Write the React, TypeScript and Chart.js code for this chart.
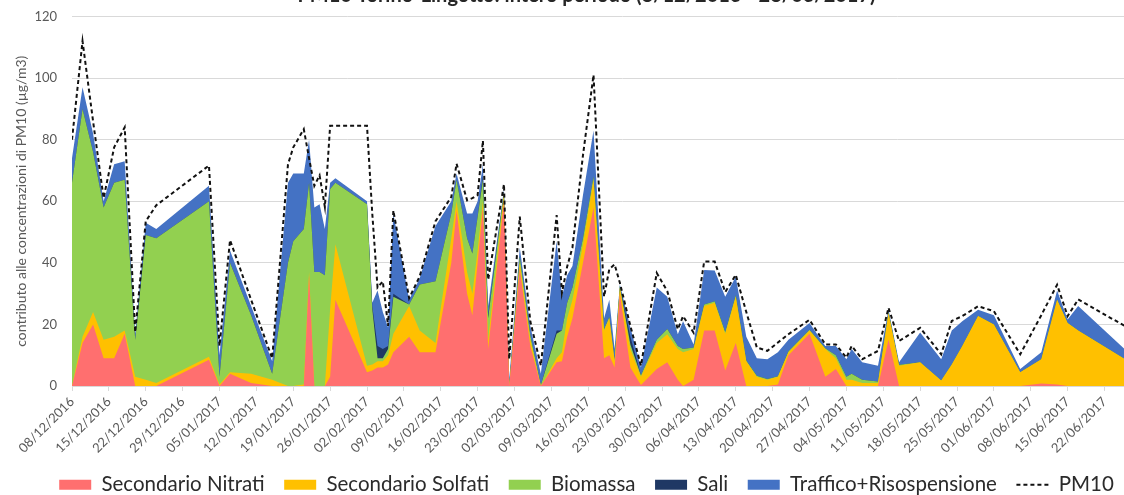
import React, { useEffect, useRef } from 'react';
import { Chart, registerables } from 'chart.js';

Chart.register(...registerables);
Chart.defaults.font.family = 'Lato, "Noto Sans", sans-serif';

// Sampling dates (dd/mm/yyyy)
const sampleDates = [
  '08/12/2016', '10/12/2016', '12/12/2016', '14/12/2016', '16/12/2016', '18/12/2016', '20/12/2016', '22/12/2016', '24/12/2016',
  '03/01/2017', '05/01/2017', '07/01/2017', '11/01/2017', '15/01/2017',
  '18/01/2017', '19/01/2017', '21/01/2017', '22/01/2017', '23/01/2017', '24/01/2017', '25/01/2017', '26/01/2017', '27/01/2017',
  '02/02/2017', '03/02/2017', '04/02/2017', '05/02/2017', '06/02/2017', '07/02/2017',
  '10/02/2017', '12/02/2017', '15/02/2017',
  '18/02/2017', '19/02/2017', '21/02/2017', '22/02/2017', '23/02/2017', '24/02/2017', '25/02/2017',
  '28/02/2017', '01/03/2017', '03/03/2017', '05/03/2017', '07/03/2017',
  '10/03/2017', '11/03/2017', '12/03/2017', '13/03/2017', '15/03/2017', '17/03/2017',
  '19/03/2017', '20/03/2017', '21/03/2017', '22/03/2017', '24/03/2017', '26/03/2017',
  '29/03/2017', '31/03/2017', '02/04/2017', '03/04/2017', '05/04/2017',
  '07/04/2017', '09/04/2017', '11/04/2017', '13/04/2017', '15/04/2017', '17/04/2017', '19/04/2017', '21/04/2017', '23/04/2017',
  '27/04/2017', '30/04/2017', '02/05/2017', '04/05/2017', '05/05/2017', '07/05/2017', '10/05/2017', '12/05/2017', '14/05/2017',
  '18/05/2017', '22/05/2017', '24/05/2017', '26/05/2017', '29/05/2017', '01/06/2017',
  '06/06/2017', '10/06/2017', '13/06/2017', '15/06/2017', '17/06/2017', '28/06/2017',
];

// Source contributions (µg/m3)
const nitrati = [
  0, 14, 20, 9, 9, 17, 0, 0, 0,
  8.5, 0, 4, 1, 0,
  0, 0, 0, 36, 0, 0, 0, 3, 28,
  4.5, 5, 6, 6, 7, 11,
  16, 11, 11,
  40, 57, 30, 23, 40, 58, 12,
  60, 0, 38, 13, 0,
  7.7, 8, 16, 22, 40, 58,
  9, 10, 6, 30, 6, 0.3,
  5.5, 7.7, 2, 0, 2,
  18, 18, 5, 14, 0, 0, 0, 0.5, 10,
  17, 3, 5.5, 0, 0, 0, 0, 15, 0,
  0, 0, 0, 0, 0, 0,
  0, 0.8, 0.5, 0, 0, 0,
];

const solfati = [
  0, 2, 4, 6, 7, 1, 3, 2, 1,
  1, 0.5, 0.5, 3, 2,
  0, 0, 0.5, 1, 0, 0, 0, 22, 18,
  2.1, 2, 2, 2, 3, 6,
  10, 7, 3,
  8, 3, 7, 7, 4, 2, 3,
  2, 0, 2, 2, 0,
  1.3, 3, 6, 6, 6, 9,
  9, 12, 2, 2, 6, 2.7,
  8.5, 9.1, 10, 11, 10,
  8, 9, 12, 15, 8, 3, 2, 2.5, 1,
  1, 9, 3.5, 2, 2, 1, 1, 8.7, 6.6,
  7.7, 1.8, 7, 13, 22.7, 20,
  4.5, 7.9, 27.5, 20.5, 18, 6.5,
];

const biomassa = [
  66, 74, 52, 43, 50, 49, 12, 47, 47,
  50.5, 2.5, 35.5, 19, 2,
  40, 47, 50.5, 29, 37, 37, 36, 39, 20,
  52.4, 18, 1, 1, 2, 12,
  0.5, 15, 20,
  8, 7, 11, 13, 11, 7, 7,
  1, 0.3, 2, 1.5, 0.3,
  8, 7, 5, 4, 2, 1,
  0.5, 0.5, 0.5, 0.5, 1.5, 0.5,
  1, 1.7, 1, 1, 0.5,
  0.5, 0.5, 0.5, 0.5, 0.3, 0.3, 0.3, 0.2, 0.3,
  0.3, 0.3, 1, 1, 2, 1, 0.5, 0.3, 0.3,
  0, 0, 0, 0, 0, 0,
  0, 0, 0, 0, 0, 0,
];

const sali = [
  0, 0, 0, 0, 0, 0, 0, 0, 0,
  0, 0, 0, 0, 0,
  0, 0, 0, 0, 0, 0, 0, 0, 0,
  0, 1, 4, 3, 1, 1,
  0, 0, 0,
  0, 0, 0, 0, 0, 1, 1,
  0, 0, 0, 0, 0,
  1, 0, 0, 0, 0, 0,
  0, 0, 0, 0, 2.5, 0,
  0, 0, 0, 0, 0,
  0, 0, 0, 0, 0, 0, 0, 0, 0,
  0, 0, 0, 0, 0, 0, 0, 0, 0,
  0, 0, 0, 0, 0, 0,
  0, 0, 0, 0, 0, 0,
];

const traffico = [
  8, 7, 6, 2, 6, 6, 2, 4, 3,
  5, 7, 4, 3, 4,
  26, 22, 18, 14, 21, 22, 15, 2, 1.5,
  1, 1, 18, 12, 6, 26,
  1.5, 2, 18,
  4, 2, 8, 13, 5, 4, 3,
  1, 1.7, 3, 3, 3.7,
  29, 11, 9, 7, 14, 15,
  3.5, 5.5, 3.5, 0.5, 3, 2.5,
  17, 10.5, 3.8, 9, 1,
  11.2, 10, 11.5, 6, 7.7, 5.7, 6.4, 7.8, 3.7,
  2.2, 0.7, 3, 5.7, 8, 5.7, 5.1, 0.8, 0.8,
  9.7, 6.9, 11, 8, 2.1, 3,
  1, 2.3, 3, 1.1, 8, 2,
];

// Measured PM10 (µg/m3)
const pm10 = [
  80, 112, 86, 61, 77.5, 84, 17.5, 53.5, 58.7,
  71.6, 13, 47.4, 28, 9,
  72, 77.5, 83.4, 74, 65, 68.4, 58.2, 84.5, 84.5,
  84.5, 56, 32, 34, 19.5, 57,
  28.5, 35.6, 53.5,
  61.4, 72.2, 60.3, 61, 62, 79.7, 34.5,
  65.5, 8.7, 55, 21, 6.6,
  55.5, 30.2, 38.8, 45, 75, 101,
  29, 38, 39.5, 33.5, 19.5, 6.6,
  36.7, 30.8, 18.4, 22.7, 17.3,
  40.4, 40.4, 30.5, 36.1, 24, 12.5, 11.4, 14.1, 16.8,
  21.5, 13.5, 13.5, 9.2, 13, 8.7, 11.4, 25.4, 14.6,
  18.9, 10.3, 21.1, 22.7, 25.9, 24.3,
  10.3, 23, 32.9, 22.7, 28.1, 17.4,
];

// Weekly axis labels
const weekLabels = [
  '08/12/2016', '15/12/2016', '22/12/2016', '29/12/2016', '05/01/2017', '12/01/2017', '19/01/2017',
  '26/01/2017', '02/02/2017', '09/02/2017', '16/02/2017', '23/02/2017', '02/03/2017', '09/03/2017',
  '16/03/2017', '23/03/2017', '30/03/2017', '06/04/2017', '13/04/2017', '20/04/2017', '27/04/2017',
  '04/05/2017', '11/05/2017', '18/05/2017', '25/05/2017', '01/06/2017', '08/06/2017', '15/06/2017',
  '22/06/2017',
];

const seriesNames = ['Secondario Nitrati', 'Secondario Solfati', 'Biomassa', 'Sali', 'Traffico+Risospensione'];
const seriesColors = ['#FF6F6F', '#FFC000', '#92D050', '#1F3864', '#4472C4'];

const TITLE = 'PM10 Torino-Lingotto: intero periodo (8/12/2016 - 28/06/2017)';
const Y_TITLE = 'contributo alle concentrazioni di PM10 (µg/m3)';

const DAY_MS = 86400000;
const [d0, m0, y0] = weekLabels[0].split('/').map(Number);
const origin = Date.UTC(y0, m0 - 1, d0);
const dayOf = (s: string) => {
  const [d, m, y] = s.split('/').map(Number);
  return Math.round((Date.UTC(y, m - 1, d) - origin) / DAY_MS);
};
const days = sampleDates.map(dayOf);

const X_MAX = 209;
const CANVAS_W = 1173;
const CANVAS_H = 525;
const TEXT_GREY = '#595959';
const GRID = '#D9D9D9';

export default function App() {
  const canvasRef = useRef<HTMLCanvasElement>(null);

  useEffect(() => {
    const canvas = canvasRef.current;
    if (!canvas) return;

    const stacked = [nitrati, solfati, biomassa, sali, traffico].map((values, i) => ({
      label: seriesNames[i],
      data: days.map((x, j) => ({ x, y: values[j] })),
      backgroundColor: seriesColors[i],
      borderColor: seriesColors[i],
      borderWidth: 0,
      fill: 'origin',
      pointRadius: 0,
      tension: 0,
    }));

    const chart = new Chart(canvas, {
      type: 'line',
      data: {
        datasets: [
          ...stacked,
          {
            label: 'PM10',
            data: days.map((x, j) => ({ x, y: pm10[j] })),
            borderColor: '#111111',
            backgroundColor: '#111111',
            borderWidth: 2,
            borderDash: [4, 3],
            fill: false,
            pointRadius: 0,
            tension: 0,
            stack: 'pm10',
            order: -1,
          },
        ] as any,
      },
      options: {
        animation: false,
        responsive: false,
        layout: { padding: 0 },
        plugins: {
          title: {
            display: true,
            text: TITLE,
            color: '#262626',
            font: { size: 20, weight: 'bold' },
            padding: { top: 3.5, bottom: 9 },
          },
          legend: {
            position: 'bottom',
            labels: {
              usePointStyle: true,
              pointStyleWidth: 32,
              boxHeight: 10,
              padding: 19.5,
              color: '#2B2B2B',
              font: { size: 20.5 },
              generateLabels: (c: any) =>
                c.data.datasets.map((ds: any, i: number) => {
                  const isLine = ds.fill === false;
                  return {
                    text: ds.label,
                    datasetIndex: i,
                    hidden: false,
                    fillStyle: isLine ? 'rgba(0,0,0,0)' : ds.backgroundColor,
                    strokeStyle: isLine ? ds.borderColor : ds.backgroundColor,
                    lineWidth: isLine ? 2 : 0,
                    lineDash: isLine ? [4, 3] : [],
                    pointStyle: isLine ? 'line' : 'rect',
                    fontColor: '#2B2B2B',
                  };
                }),
            },
          },
          tooltip: { enabled: false },
        },
        scales: {
          x: {
            type: 'linear',
            min: 0,
            max: X_MAX,
            afterBuildTicks: (scale: any) => {
              scale.ticks = weekLabels.map((_, i) => ({ value: i * 7 }));
            },
            afterFit: (scale: any) => {
              scale.height = 69;
            },
            ticks: {
              autoSkip: false,
              minRotation: 45,
              maxRotation: 45,
              padding: 3,
              color: TEXT_GREY,
              font: { size: 13 },
              callback: (v: any) => weekLabels[Math.round(Number(v) / 7)] ?? '',
            },
            grid: { drawOnChartArea: false, drawTicks: true, tickLength: 5, color: GRID },
            border: { display: true, color: GRID },
          },
          y: {
            stacked: true,
            min: 0,
            max: 120,
            afterFit: (scale: any) => {
              scale.width = 72;
            },
            ticks: { stepSize: 20, padding: 15, color: TEXT_GREY, font: { size: 13 } },
            grid: { color: GRID, drawTicks: false },
            border: { display: false },
            title: {
              display: true,
              text: Y_TITLE,
              color: TEXT_GREY,
              font: { size: 14 },
              padding: { top: 13, bottom: 0 },
            },
          },
        },
      } as any,
    });

    return () => chart.destroy();
  }, []);

  return (
    <div
      style={{
        position: 'fixed',
        left: 0,
        top: 0,
        width: 1124,
        height: 495,
        overflow: 'hidden',
        background: '#ffffff',
      }}
    >
      <div style={{ position: 'absolute', left: 0, top: -20, width: CANVAS_W, height: CANVAS_H }}>
        <canvas ref={canvasRef} width={CANVAS_W} height={CANVAS_H} style={{ display: 'block' }} />
      </div>
    </div>
  );
}
